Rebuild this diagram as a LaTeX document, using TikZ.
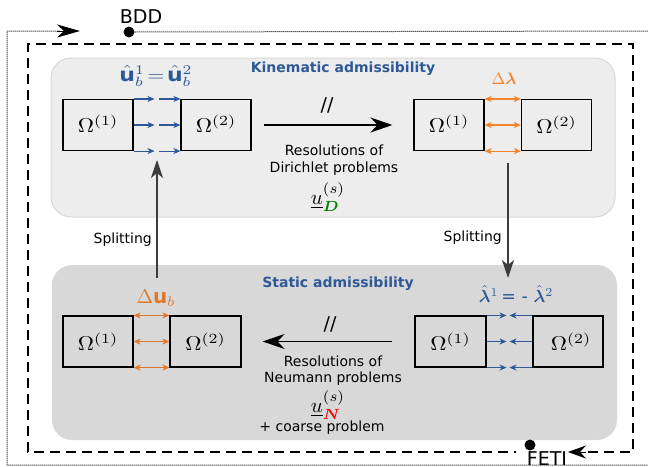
\documentclass[tikz,border=0pt]{standalone}
\usepackage{amsmath,bm}
\usepackage{graphicx}
\usepackage{fontspec}
\setmainfont{DejaVu Sans}
\usetikzlibrary{arrows.meta,calc}
\definecolor{blueC}{RGB}{47,88,150}
\definecolor{orangeT}{RGB}{245,130,40}
\definecolor{orangeB}{RGB}{222,120,45}
\definecolor{panelA}{RGB}{237,237,237}
\definecolor{panelAb}{RGB}{216,216,216}
\definecolor{panelB}{RGB}{216,216,216}
\definecolor{greenD}{RGB}{0,130,0}
\definecolor{splitC}{RGB}{60,60,60}
\newcommand{\omg}[1]{\scalebox{2.25}[2.0]{$\Omega^{(#1)}$}}
\begin{document}
\begin{tikzpicture}[x=1pt,y=-1pt,
  omega/.style={draw, line width=1.1pt, minimum width=70pt, minimum height=51pt, inner sep=0pt},
  title/.style={font=\fontsize{14}{16}\selectfont\bfseries, text=blueC},
  body/.style={font=\fontsize{14}{16.5}\selectfont, align=center, inner sep=0pt},
  lbl/.style={inner sep=0pt},
  mainarrow/.style={line width=1.6pt, -{Stealth[length=22pt,width=15pt,inset=7pt]}},
  splitarrow/.style={line width=1.3pt, draw=splitC, -{Stealth[length=18pt,width=12pt,inset=5pt]}},
  bluearrow/.style={line width=1.1pt, draw=blueC, -{Stealth[length=7pt,width=6pt,inset=2pt]}},
  orarrowT/.style={line width=1.1pt, draw=orangeT, {Stealth[length=7pt,width=6pt,inset=2pt]}-{Stealth[length=7pt,width=6pt,inset=2pt]}},
  orarrowB/.style={line width=1.1pt, draw=orangeB, {Stealth[length=7pt,width=6pt,inset=2pt]}-{Stealth[length=7pt,width=6pt,inset=2pt]}},
  bigdot/.style={circle, fill=black, inner sep=0pt, minimum size=11pt},
  slash/.style={font=\fontsize{19}{20}\selectfont, inner sep=0pt}
]
\useasboundingbox (0,0) rectangle (648,466);

% panels
\fill[panelA, draw=panelAb, line width=1pt, rounded corners=20pt] (51,58) rectangle (615,217);
\fill[panelB, rounded corners=20pt] (52,265) rectangle (617,440);

% outer loops
\node[bigdot] (bdddot) at (129,32) {};
\node[font=\fontsize{19}{20}\selectfont, inner sep=0pt] (bdd) at (141,17) {BDD};
\draw[dash pattern=on 1pt off 1pt, line width=1pt] (bdddot.east) -- (652,31) -- (652,465) -- (7,465) -- (7,31) -- (60,31);
\draw[line width=0.8pt, -{Stealth[length=23pt,width=13pt,inset=7pt]}] (57,31) -- (80,31);

\node[bigdot] (fetidot) at (530,445) {};
\node[font=\fontsize{19}{20}\selectfont, inner sep=0pt] (feti) at (547,459) {FETI};
\draw[dashed, dash pattern=on 10pt off 6pt, line width=1.1pt] (588,452) -- (633,452) -- (633,44) -- (28,44) -- (28,452) -- (516,452);
\draw[line width=1pt, -{Stealth[length=18pt,width=13pt,inset=6pt]}] (586,452) -- (568,452);

% titles
\node[title] (kin) at (343,69) {Kinematic admissibility};
\node[title] (stat) at (338,284) {Static admissibility};

% kinematic boxes
\node[omega] (k1) at (98,125) {\raisebox{3pt}{\omg{1}}};
\node[omega] (k2) at (216,125) {\raisebox{3pt}{\omg{2}}};
\node[omega] (k3) at (449,125) {\raisebox{3pt}{\omg{1}}};
\node[omega] (k4) at (556.5,125) {\omg{2}};

% static boxes
\node[omega] (n1) at (98,341.5) {\omg{1}};
\node[omega, minimum width=71pt] (n2) at (205.5,341.5) {\omg{2}};
\node[omega, minimum width=71pt] (s1) at (450.5,341.5) {\omg{1}};
\node[omega] (s2) at (568,341.5) {\hspace*{6pt}\omg{2}};

% top-left blue arrows
\foreach \a/\b in {north east/north west, east/west, south east/south west}{
  \draw[bluearrow] (k1.\a) -- ($(k1.\a)+(21,0)$);
  \draw[bluearrow] ($(k2.\b)+(-21,0)$) -- (k2.\b);
}
\node[lbl, text=blueC] (uhat) at (156,76) {\scalebox{2.2}[1.9]{$\hat{\mathbf{u}}_b^1\!=\!\hat{\mathbf{u}}_b^2$}};

% top-right orange arrows
\foreach \a/\b in {north east/north west, east/west, south east/south west}{
  \draw[orarrowT] (k3.\a) -- (k4.\b);
}
\node[lbl, text=orangeT] (dlam) at (504,79) {\scalebox{1.65}{$\Delta\boldsymbol{\lambda}$}};

% bottom-right blue arrows
\foreach \a/\b in {north east/north west, east/west, south east/south west}{
  \draw[bluearrow] (s1.\a) -- ($(s1.\a)+(20,0)$);
  \draw[bluearrow] (s2.\b) -- ($(s2.\b)+(-23,0)$);
}
\node[lbl, text=blueC] (lamhat) at (516,294) {\scalebox{1.75}{$\hat{\boldsymbol{\lambda}}^{1}$\,= - $\hat{\boldsymbol{\lambda}}^{2}$}};

% bottom-left orange arrows
\foreach \a/\b in {north east/north west, east/west, south east/south west}{
  \draw[orarrowB] (n1.\a) -- (n2.\b);
}
\node[lbl, text=orangeB] (du) at (156,298) {\scalebox{2.0}{$\Delta\mathbf{u}_b$}};

% main arrows
\draw[mainarrow, shorten <=12pt, shorten >=21pt] (k2) -- (k3);
\node[slash] (sl1) at (327,105) {//};
\node[body] (resD) at (334,160) {Resolutions of\\Dirichlet problems};
\node[lbl] (uD) at (328,197) {\scalebox{2.1}{$\underline{u}^{(s)}_{\textcolor{greenD}{\boldsymbol{D}}}$}};

\draw[mainarrow, shorten <=22pt, shorten >=21pt] (s1) -- (n2);
\node[slash] (sl2) at (330,324) {//};
\node[body] (resN) at (333,370.5) {Resolutions of\\Neumann problems};
\node[lbl] (uN) at (328,405) {\scalebox{2.1}{$\underline{u}^{(s)}_{\textcolor{red}{\boldsymbol{N}}}$}};
\node[body] (coarse) at (322,428) {+ coarse problem};

% splitting arrows
\coordinate (srA) at (508,163);
\coordinate (srB) at (508,278);
\draw[splitarrow] (srA) -- (srB);
\node[body, anchor=east] (splitR) at (502,238) {Splitting};
\coordinate (slA) at (157,278);
\coordinate (slB) at (157,160);
\draw[splitarrow] (slA) -- (slB);
\node[body, anchor=east] (splitL) at (152,240) {Splitting};
\end{tikzpicture}
\end{document}
